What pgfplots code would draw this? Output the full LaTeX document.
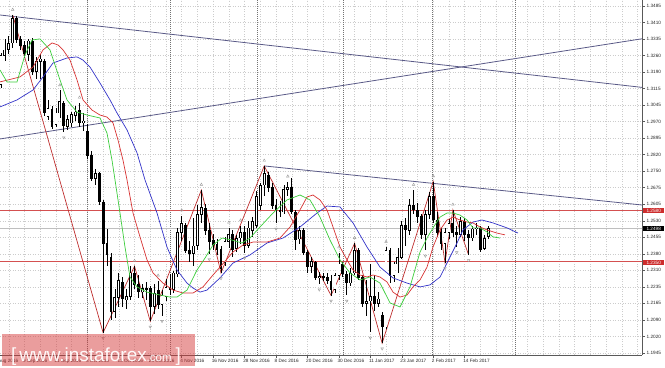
\documentclass[border=0pt]{standalone}
\usepackage{pgfplots}
\pgfplotsset{compat=1.18}
\usepackage{pgfplotstable}
\usepackage{fontspec}
\setmainfont{Liberation Sans}
\definecolor{jaw}{RGB}{50,50,200}
\definecolor{teeth}{RGB}{215,50,50}
\definecolor{lips}{RGB}{60,205,60}
\definecolor{zz}{RGB}{190,45,45}
\definecolor{trend}{RGB}{90,90,135}
\definecolor{hred}{RGB}{212,80,80}
\definecolor{tagred}{RGB}{205,45,45}
\definecolor{wm}{RGB}{214,60,60}
\newcommand\tickfont{\fontsize{4.7}{5}\selectfont}

\pgfplotstableread{
i o h l c
-6 1.3135 1.3275 1.3120 1.3265
-5 1.3265 1.3340 1.3240 1.3290
-4 1.3290 1.3350 1.3270 1.3320
-3 1.3320 1.3445 1.3300 1.3430
-2 1.3430 1.3440 1.3320 1.3335
-1 1.3335 1.3350 1.3290 1.3310
0 1.3312 1.3330 1.3255 1.3275
1 1.3268 1.3340 1.3240 1.3330
2 1.3330 1.3345 1.3180 1.3195
3 1.3195 1.3260 1.3160 1.3240
4 1.3240 1.3270 1.3160 1.3250
5 1.3240 1.3250 1.2995 1.3010
6 1.2995 1.3070 1.2980 1.3030
7 1.3025 1.3040 1.2940 1.2950
8 1.2960 1.3030 1.2950 1.3010
9 1.3010 1.3110 1.2990 1.3060
10 1.3055 1.3065 1.2925 1.2955
11 1.2950 1.3000 1.2935 1.2980
12 1.2965 1.3015 1.2950 1.3005
13 1.3000 1.3040 1.2975 1.3015
14 1.3020 1.3055 1.2950 1.2965
15 1.2965 1.3010 1.2930 1.2975
16 1.2930 1.2960 1.2805 1.2820
17 1.2820 1.2840 1.2710 1.2720
18 1.2720 1.2760 1.2690 1.2740
19 1.2740 1.2750 1.2600 1.2615
20 1.2615 1.2625 1.2035 1.2430
21 1.2430 1.2495 1.2330 1.2380
22 1.2370 1.2390 1.2090 1.2130
23 1.2130 1.2230 1.2100 1.2190
24 1.2190 1.2300 1.2150 1.2265
25 1.2260 1.2280 1.2150 1.2185
26 1.2180 1.2230 1.2140 1.2195
27 1.2195 1.2330 1.2180 1.2300
28 1.2300 1.2330 1.2230 1.2250
29 1.2250 1.2290 1.2190 1.2215
30 1.2215 1.2250 1.2190 1.2230
31 1.2230 1.2260 1.2180 1.2225
32 1.2230 1.2240 1.2085 1.2150
33 1.2150 1.2250 1.2120 1.2210
34 1.2225 1.2265 1.2140 1.2160
35 1.2160 1.2225 1.2110 1.2200
36 1.2195 1.2275 1.2175 1.2235
37 1.2235 1.2295 1.2200 1.2225
38 1.2225 1.2310 1.2210 1.2300
39 1.2295 1.2500 1.2280 1.2480
40 1.2480 1.2555 1.2440 1.2520
41 1.2510 1.2520 1.2390 1.2400
42 1.2400 1.2440 1.2350 1.2385
43 1.2385 1.2545 1.2330 1.2420
44 1.2420 1.2600 1.2400 1.2560
45 1.2560 1.2668 1.2520 1.2590
46 1.2585 1.2605 1.2470 1.2490
47 1.2490 1.2520 1.2385 1.2440
48 1.2445 1.2475 1.2400 1.2425
49 1.2425 1.2450 1.2380 1.2405
50 1.2405 1.2420 1.2300 1.2320
51 1.2345 1.2460 1.2330 1.2440
52 1.2440 1.2500 1.2410 1.2470
53 1.2470 1.2490 1.2370 1.2405
54 1.2410 1.2470 1.2395 1.2455
55 1.2455 1.2510 1.2430 1.2480
56 1.2480 1.2510 1.2390 1.2420
57 1.2420 1.2530 1.2410 1.2500
58 1.2490 1.2550 1.2460 1.2530
59 1.2510 1.2665 1.2500 1.2640
60 1.2600 1.2700 1.2580 1.2690
61 1.2690 1.2775 1.2640 1.2740
62 1.2735 1.2750 1.2660 1.2680
63 1.2680 1.2700 1.2585 1.2600
64 1.2600 1.2630 1.2520 1.2580
65 1.2580 1.2620 1.2550 1.2570
66 1.2570 1.2690 1.2560 1.2670
67 1.2670 1.2705 1.2640 1.2680
68 1.2680 1.2720 1.2560 1.2570
69 1.2570 1.2580 1.2400 1.2450
70 1.2450 1.2510 1.2430 1.2490
71 1.2490 1.2500 1.2380 1.2390
72 1.2390 1.2400 1.2300 1.2330
73 1.2330 1.2370 1.2300 1.2350
74 1.2345 1.2355 1.2270 1.2280
75 1.2280 1.2305 1.2250 1.2285
76 1.2285 1.2300 1.2265 1.2280
77 1.2280 1.2300 1.2250 1.2265
78 1.2265 1.2290 1.2200 1.2225
79 1.2225 1.2300 1.2210 1.2290
80 1.2290 1.2390 1.2270 1.2340
81 1.2340 1.2350 1.2280 1.2295
82 1.2295 1.2310 1.2200 1.2255
83 1.2255 1.2320 1.2240 1.2300
84 1.2300 1.2432 1.2290 1.2400
85 1.2400 1.2410 1.2270 1.2280
86 1.2280 1.2290 1.2150 1.2165
87 1.2165 1.2270 1.2110 1.2175
88 1.2175 1.2340 1.2036 1.2195
89 1.2195 1.2290 1.2130 1.2165
90 1.2165 1.2215 1.2150 1.2185
91 1.2110 1.2125 1.1988 1.2060
92 1.2060 1.2415 1.2050 1.2400
93 1.2400 1.2410 1.2255 1.2290
94 1.2290 1.2350 1.2260 1.2340
95 1.2340 1.2410 1.2300 1.2370
96 1.2370 1.2530 1.2360 1.2510
97 1.2510 1.2545 1.2420 1.2490
98 1.2490 1.2630 1.2470 1.2600
99 1.2600 1.2668 1.2560 1.2580
100 1.2580 1.2610 1.2520 1.2550
101 1.2550 1.2560 1.2450 1.2470
102 1.2470 1.2580 1.2400 1.2560
103 1.2560 1.2660 1.2540 1.2640
104 1.2640 1.2706 1.2520 1.2535
105 1.2535 1.2570 1.2460 1.2480
106 1.2480 1.2500 1.2400 1.2430
107 1.2430 1.2500 1.2345 1.2480
108 1.2480 1.2540 1.2450 1.2520
109 1.2520 1.2580 1.2460 1.2480
110 1.2480 1.2510 1.2415 1.2470
111 1.2470 1.2550 1.2460 1.2530
112 1.2530 1.2545 1.2440 1.2470
113 1.2470 1.2490 1.2380 1.2455
114 1.2455 1.2510 1.2440 1.2495
115 1.2495 1.2520 1.2470 1.2500
116 1.2500 1.2510 1.2395 1.2405
117 1.2410 1.2470 1.2400 1.2455
118 1.2460 1.2510 1.2450 1.2498
}\candles

\begin{document}
\begin{tikzpicture}
\begin{axis}[
  at={(0,0)}, anchor=south west,
  scale only axis, width=642bp, height=355bp,
  xmin=-6.234, xmax=157.12, ymin=1.19358, ymax=1.35116,
  axis x line*=bottom, axis y line*=right,
  axis line style={black!65, line width=0.8bp},
  tick align=outside, major tick length=3bp, minor tick length=0pt,
  tick style={black!65, line width=0.5bp},
  ytick={1.34850,1.34117,1.33383,1.32650,1.31917,1.31183,1.30450,1.29717,1.28983,1.28250,1.27517,1.26783,1.26050,1.25317,1.24583,1.23850,1.23117,1.22383,1.21650,1.20917,1.20183,1.19450},
  yticklabels={1.3485,1.3410,1.3335,1.3260,1.3190,1.3115,1.3045,1.2970,1.2895,1.2820,1.2750,1.2675,1.2605,1.2530,1.2455,1.2380,1.2310,1.2235,1.2165,1.2090,1.2020,1.1945},
  yticklabel style={font=\tickfont, anchor=west, inner sep=0pt, xshift=1.5bp, text=black!85},
  xtick={0,8,...,112},
  xticklabels={9 Sep 2016,21 Sep 2016,3 Oct 2016,13 Oct 2016,25 Oct 2016,4 Nov 2016,16 Nov 2016,28 Nov 2016,8 Dec 2016,20 Dec 2016,30 Dec 2016,11 Jan 2017,23 Jan 2017,2 Feb 2017,14 Feb 2017},
  xticklabel style={font=\tickfont, anchor=north west, inner sep=0pt, xshift=-1.5bp, yshift=-1bp, text=black!85},
  minor xtick={-4,4,12,20,28,36,44,52,60,68,76,84,92,100,108,116,120,124,128,132,136,140,144,148,152,156},
  xmajorgrids, xminorgrids, ymajorgrids,
  major grid style={draw=black!20, dash pattern=on 1bp off 1.5bp, line width=0.5bp},
  minor grid style={draw=black!20, dash pattern=on 1bp off 1.5bp, line width=0.5bp},
]
% month separators
\addplot[black!55, dash pattern=on 1bp off 1bp, line width=0.6bp, forget plot] coordinates {(16.03,1.19) (16.03,1.36)};
\addplot[black!55, dash pattern=on 1bp off 1bp, line width=0.6bp, forget plot] coordinates {(37.15,1.19) (37.15,1.36)};
\addplot[black!55, dash pattern=on 1bp off 1bp, line width=0.6bp, forget plot] coordinates {(59.16,1.19) (59.16,1.36)};
\addplot[black!55, dash pattern=on 1bp off 1bp, line width=0.6bp, forget plot] coordinates {(81.04,1.19) (81.04,1.36)};
\addplot[black!55, dash pattern=on 1bp off 1bp, line width=0.6bp, forget plot] coordinates {(103.82,1.19) (103.82,1.36)};
\addplot[black!55, dash pattern=on 1bp off 1bp, line width=0.6bp, forget plot] coordinates {(124.81,1.19) (124.81,1.36)};
% horizontal levels
\addplot[black!25, line width=0.6bp] coordinates {(-7,1.2498) (158,1.2498)};
\addplot[hred, line width=1.1bp] coordinates {(-7,1.2578) (158,1.2578)};
\addplot[hred, line width=1.1bp] coordinates {(-7,1.2350) (158,1.2350)};
% trend lines
\addplot[trend, line width=0.8bp] coordinates {(-6.234,1.3445) (157.12,1.31237)};
\addplot[trend, line width=0.8bp] coordinates {(-6.234,1.28948) (157.12,1.33394)};
\addplot[trend, line width=0.8bp] coordinates {(61,1.2775) (157.12,1.26017)};
% zigzag
\addplot[zz, line width=0.7bp] coordinates {(-3,1.3445) (20,1.2035) (28,1.2330) (32,1.2085) (45,1.2668) (50,1.2300) (61,1.2775) (78,1.2200) (84,1.2432) (91,1.1988) (104,1.2706) (107,1.2345) (109,1.2580) (113,1.2380)};
% candles: wicks
\addplot[draw=none, mark=none, forget plot, error bars/.cd, y dir=both, y explicit, error mark=none,
  error bar style={draw=black, line width=0.7bp}]
  table[x=i, y expr={(\thisrow{h}+\thisrow{l})/2}, y error expr={(\thisrow{h}-\thisrow{l})/2}] {\candles};
% bodies
\addplot[draw=none, mark=none, forget plot, error bars/.cd, y dir=both, y explicit, error mark=none,
  error bar style={draw=black, line width=2.8bp}]
  table[x=i, y expr={(\thisrow{o}+\thisrow{c})/2}, y error expr={abs(\thisrow{o}-\thisrow{c})/2+0.00015}] {\candles};
\addplot[draw=none, mark=none, forget plot, error bars/.cd, y dir=both, y explicit, error mark=none,
  error bar style={draw=white, line width=1.2bp}]
  table[x=i, y expr={(\thisrow{o}+\thisrow{c})/2}, y error expr={(\thisrow{c}>\thisrow{o})*max(abs(\thisrow{o}-\thisrow{c})/2-0.0002,0)}] {\candles};
% alligator
\addplot[jaw, line width=0.7bp] coordinates {(-6.23,1.3037) (-1.91,1.3068) (2.16,1.3112) (4.71,1.3170) (7.25,1.3232) (10.81,1.3254) (13.36,1.3259) (14.89,1.3245) (16.67,1.3214) (19.21,1.3143) (21.76,1.3068) (23.54,1.3010) (26.08,1.2935) (28.63,1.2833) (30.66,1.2713) (33.72,1.2566) (36.26,1.2415) (38.80,1.2313) (41.35,1.2255) (42.88,1.2233) (44.66,1.2215) (46.44,1.2224) (49.75,1.2278) (53.05,1.2344) (57.38,1.2380) (61.70,1.2433) (65.78,1.2455) (70.10,1.2504) (74.43,1.2566) (76.97,1.2597) (80.28,1.2593) (83.59,1.2522) (87.15,1.2415) (90.46,1.2326) (93.77,1.2278) (97.33,1.2255) (100.64,1.2238) (103.18,1.2247) (105.73,1.2282) (108.27,1.2371) (110.05,1.2433) (111.58,1.2491) (114.12,1.2526) (116.41,1.2535) (119.21,1.2522) (122.77,1.2500) (125.57,1.2477)};
\addplot[teeth, line width=0.7bp] coordinates {(-6.23,1.3148) (-1.15,1.3170) (2.16,1.3214) (4.71,1.3290) (7.00,1.3321) (8.52,1.3312) (9.80,1.3290) (11.58,1.3245) (13.36,1.3157) (14.89,1.3068) (17.18,1.3023) (19.21,1.3001) (20.99,1.2992) (22.52,1.2966) (23.79,1.2890) (25.06,1.2801) (26.08,1.2713) (27.61,1.2566) (29.39,1.2460) (31.17,1.2358) (32.70,1.2300) (35.24,1.2255) (37.79,1.2224) (40.33,1.2211) (42.88,1.2211) (45.42,1.2238) (47.96,1.2291) (49.75,1.2326) (53.05,1.2393) (55.60,1.2424) (58.14,1.2437) (61.70,1.2437) (65.01,1.2455) (67.56,1.2504) (70.10,1.2580) (71.88,1.2637) (73.41,1.2646) (75.19,1.2624) (76.97,1.2580) (78.50,1.2504) (80.28,1.2415) (82.06,1.2358) (83.59,1.2313) (85.37,1.2291) (87.15,1.2282) (88.68,1.2291) (90.46,1.2282) (92.24,1.2260) (93.77,1.2215) (95.55,1.2193) (97.33,1.2202) (98.85,1.2238) (100.64,1.2269) (102.42,1.2326) (103.94,1.2415) (105.73,1.2491) (107.51,1.2535) (109.03,1.2548) (110.81,1.2535) (112.60,1.2526) (114.12,1.2522) (115.90,1.2504) (117.68,1.2491) (120.23,1.2477) (122.26,1.2469)};
\addplot[lips, line width=0.7bp] coordinates {(-6.23,1.3201) (-4.45,1.3148) (-1.91,1.3148) (0.13,1.3268) (1.91,1.3334) (3.94,1.3339) (6.49,1.3290) (9.03,1.3157) (10.81,1.3068) (13.36,1.3014) (15.90,1.3001) (19.21,1.2988) (20.99,1.2921) (22.26,1.2801) (23.03,1.2713) (24.30,1.2566) (25.57,1.2415) (26.84,1.2282) (28.63,1.2238) (31.17,1.2215) (34.48,1.2202) (37.02,1.2193) (38.80,1.2193) (41.35,1.2224) (43.89,1.2313) (45.93,1.2366) (47.96,1.2424) (50.25,1.2455) (52.80,1.2446) (55.34,1.2433) (57.38,1.2455) (59.92,1.2504) (63.23,1.2566) (66.79,1.2624) (70.10,1.2646) (72.65,1.2624) (75.19,1.2548) (77.74,1.2446) (80.28,1.2358) (82.82,1.2300) (85.37,1.2269) (87.91,1.2282) (90.46,1.2255) (93.00,1.2167) (95.55,1.2149) (98.09,1.2238) (100.64,1.2393) (102.42,1.2455) (103.94,1.2500) (105.73,1.2548) (107.51,1.2566) (109.03,1.2566) (110.81,1.2557) (112.60,1.2535) (114.12,1.2500) (115.90,1.2500) (117.68,1.2482) (119.21,1.2460) (120.99,1.2455)};
% fractals
\addplot[only marks, mark=triangle, mark size=1.5bp, mark options={draw=black!40, fill=none, line width=0.4bp}] coordinates {(-3,1.3469) (9,1.3134) (14,1.3079) (28,1.2354) (34,1.2289) (40,1.2579) (45,1.2692) (52,1.2524) (55,1.2534) (61,1.2799) (67,1.2729) (80,1.2414) (84,1.2456) (92,1.2439) (99,1.2692) (104,1.2730) (109,1.2604)};
\addplot[only marks, mark=triangle, mark size=1.5bp, mark options={rotate=180, draw=black!40, fill=none, line width=0.4bp}] coordinates {(10,1.2901) (20,1.2011) (32,1.2061) (35,1.2086) (47,1.2361) (50,1.2276) (56,1.2366) (64,1.2496) (75,1.2226) (78,1.2176) (82,1.2176) (88,1.2012) (91,1.1964) (102,1.2376) (107,1.2321) (110,1.2391) (113,1.2356)};
\end{axis}
% price tags on the axis
\node[fill=tagred, text=white, font=\tickfont, inner sep=0.6bp, anchor=west, minimum width=21bp] at (643bp,144.3bp) {1.2580};
\node[fill=tagred, text=white, font=\tickfont, inner sep=0.6bp, anchor=west, minimum width=21bp] at (643bp,92.6bp) {1.2350};
\node[fill=black, text=white, font=\tickfont, inner sep=0.6bp, anchor=west, minimum width=21bp] at (643bp,126.5bp) {1.2498};
% partial first date label
\node[font=\tickfont, anchor=north west, inner sep=0pt, text=black!85] at (-8.5bp,-4bp) {31 Aug 2016};
% watermark
\fill[wm, fill opacity=0.5] (2bp,21bp) rectangle (195bp,-11bp);
\node[anchor=base west, inner sep=0pt, text=white, text opacity=0.95] at (11bp,-6bp) {\fontsize{19}{19}\selectfont [\hspace{3bp}www.instaforex{\fontsize{11.5}{12}\selectfont .com}\hspace{4bp}]};
\pgfresetboundingbox
\useasboundingbox (0,-13bp) rectangle (665bp,355bp);
\end{tikzpicture}
\end{document}
